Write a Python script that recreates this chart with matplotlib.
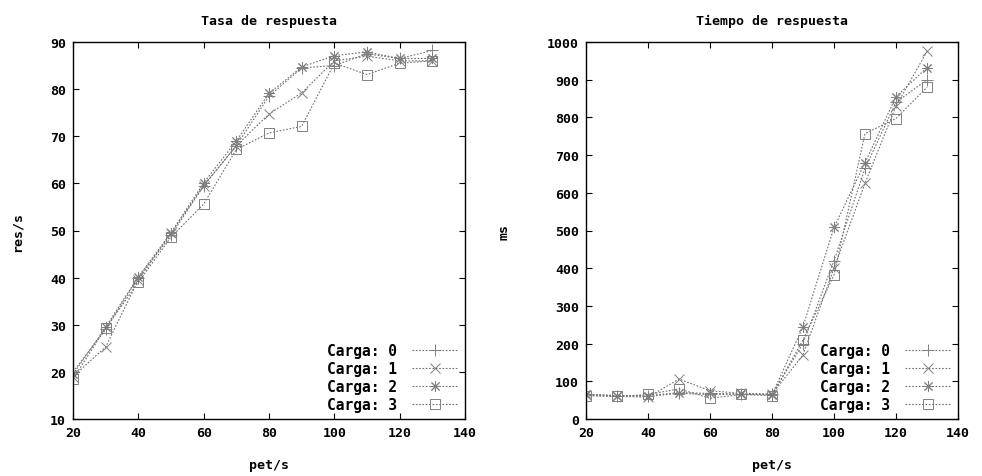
import matplotlib
matplotlib.use("Agg")
import matplotlib.pyplot as plt

x = [20, 30, 40, 50, 60, 70, 80, 90, 100, 110, 120, 130]
labels = ["Carga: 0", "Carga: 1", "Carga: 2", "Carga: 3"]

tasa_c0 = [20.0, 29.0, 40.0, 49.0, 59.5, 68.0, 78.5, 84.5, 85.0, 87.5, 86.5, 88.2]
tasa_c1 = [19.0, 25.3, 39.5, 49.5, 59.5, 68.0, 74.7, 79.2, 86.0, 87.0, 86.0, 86.0]
tasa_c2 = [19.5, 29.5, 40.2, 49.5, 60.1, 69.0, 79.1, 84.7, 87.1, 87.9, 86.5, 86.5]
tasa_c3 = [18.5, 29.3, 39.0, 48.6, 55.6, 67.2, 70.7, 72.1, 85.5, 83.1, 85.5, 86.0]

tiempo_c0 = [65, 62, 60, 68, 65, 66, 65, 200, 420, 665, 840, 900]
tiempo_c1 = [63, 60, 58, 106, 75, 68, 66, 170, 400, 625, 830, 975]
tiempo_c2 = [66, 62, 62, 70, 68, 66, 64, 245, 508, 680, 855, 932]
tiempo_c3 = [62, 60, 65, 80, 55, 65, 62, 210, 382, 757, 797, 880]

FONT = "DejaVu Sans Mono"
markers = ["+", "x", (8, 2, 0), "s"]
msizes = [8, 7, 8, 7]

fig = plt.figure(figsize=(9.82, 4.77), dpi=100)
ax1 = fig.add_axes([73/982, 1-420/477, 392/982, 377/477])
ax2 = fig.add_axes([586/982, 1-420/477, 372/982, 377/477])

def draw(ax, series, ylim, yticks, ylabel, title, ylabpad):
    for s, m, ms, lab in zip(series, markers, msizes, labels):
        ax.plot(x, s, linestyle=(0, (1.5, 1.5)), color="#707070", linewidth=0.8,
                marker=m, markersize=ms, markerfacecolor="none",
                markeredgecolor="#808080", markeredgewidth=0.7, label=lab)
    ax.set_xlim(20, 140)
    ax.set_ylim(*ylim)
    ax.set_xticks(range(20, 141, 20))
    ax.set_yticks(yticks)
    ax.tick_params(direction="in", top=True, right=True, length=4, width=0.8,
                   labelsize=9.5, pad=5)
    for lbl in ax.get_xticklabels() + ax.get_yticklabels():
        lbl.set_fontfamily(FONT)
        lbl.set_fontweight("bold")
    for sp in ax.spines.values():
        sp.set_linewidth(1.0)
    ax.set_xlabel("pet/s", fontfamily=FONT, fontweight="bold", fontsize=9.5, labelpad=14)
    ax.set_ylabel(ylabel, fontfamily=FONT, fontweight="bold", fontsize=9.5, labelpad=ylabpad)
    ax.set_title(title, fontfamily=FONT, fontweight="bold", fontsize=9.5, pad=13)
    ax.legend(loc="lower right", frameon=False, markerfirst=False,
              prop={"family": FONT, "weight": "bold", "size": 10.5},
              handlelength=3.2, labelspacing=0.22, borderaxespad=0.05,
              handletextpad=1.0)

draw(ax1, [tasa_c0, tasa_c1, tasa_c2, tasa_c3], (10, 90), range(10, 91, 10),
     "res/s", "Tasa de respuesta", 19)
draw(ax2, [tiempo_c0, tiempo_c1, tiempo_c2, tiempo_c3], (0, 1000), range(0, 1001, 100),
     "ms", "Tiempo de respuesta", 26)

fig.savefig("out.png", dpi=100)
